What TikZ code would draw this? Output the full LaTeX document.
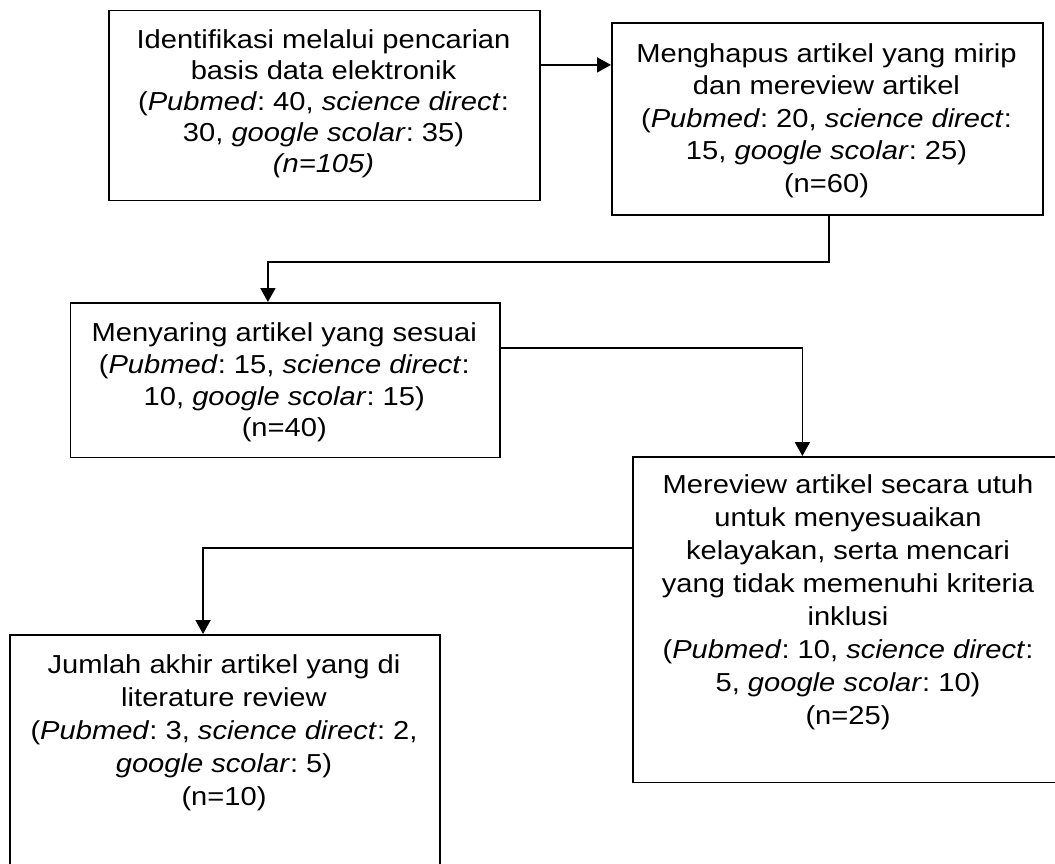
\documentclass[tikz,border=0pt]{standalone}
\usepackage{fontspec}
\setmainfont[FakeStretch=1.12]{Liberation Sans}
\usetikzlibrary{arrows.meta}
\frenchspacing
\newcommand\boxtext[2]{\fontsize{26}{#1}\selectfont\frenchspacing\begin{tabular}[t]{@{}c@{}}#2\end{tabular}}
\begin{document}
\begin{tikzpicture}[x=1pt,y=-1pt,
  box/.style={draw=black, line width=1.8pt, inner sep=0pt, anchor=north west},
  txt/.style={inner sep=0pt, anchor=base, text=black},
  arr/.style={draw=black, line width=1.8pt, -{Triangle[length=14pt,width=15pt]}}]
\useasboundingbox (0,0) rectangle (1055,863);
\fill[white] (0,0) rectangle (1055,863);
\clip (0,0) rectangle (1055,863);

% boxes
\node[box, minimum width=431pt, minimum height=190pt] (b1) at (108,9.5) {};
\node[box, minimum width=431pt, minimum height=192pt] (b2) at (611,22) {};
\node[box, minimum width=429.5pt, minimum height=154.5pt] (b3) at (69.5,302) {};
\node[box, minimum width=432pt, minimum height=325.5pt] (b4) at (632,456) {};
\node[box, minimum width=429.5pt, minimum height=240pt] (b5) at (9.4,634) {};

% texts
\node[txt] (t1) at (323.5,48) {\boxtext{31}{Identifikasi melalui pencarian\\
basis data elektronik\\
(\textit{Pubmed}: 40, \textit{science direct}:\\
30, \textit{google scolar}: 35)\\
\textit{(n=105)}}};

\node[txt] (t2) at (826.5,62) {\boxtext{32.5}{Menghapus artikel yang mirip\\
dan mereview artikel\\
(\textit{Pubmed}: 20, \textit{science direct}:\\
15, \textit{google scolar}: 25)\\
(n=60)}};

\node[txt] (t3) at (284.25,341.7) {\boxtext{31.7}{Menyaring artikel yang sesuai\\
(\textit{Pubmed}: 15, \textit{science direct}:\\
10, \textit{google scolar}: 15)\\
(n=40)}};

\node[txt] (t4) at (848,493) {\boxtext{33}{Mereview artikel secara utuh\\
untuk menyesuaikan\\
kelayakan, serta mencari\\
yang tidak memenuhi kriteria\\
inklusi\\
(\textit{Pubmed}: 10, \textit{science direct}:\\
5, \textit{google scolar}: 10)\\
(n=25)}};

\node[txt] (t5) at (224,673) {\boxtext{33}{Jumlah akhir artikel yang di\\
literature review\\
(\textit{Pubmed}: 3, \textit{science direct}: 2,\\
\textit{google scolar}: 5)\\
(n=10)}};

% connectors
\draw[arr] ([yshift=40.5pt]b1.east) -- ([yshift=40.5pt]b1.east -| b2.west);
\draw[arr] ([xshift=1.5pt]b2.south) -- ++(0,46) -| ([xshift=-17.25pt]b3.north);
\draw[arr] ([yshift=32.25pt]b3.east) -| ([xshift=-46.5pt]b4.north);
\draw[arr] ([yshift=71.75pt]b4.west) -| ([xshift=-22pt]b5.north);
\end{tikzpicture}
\end{document}
